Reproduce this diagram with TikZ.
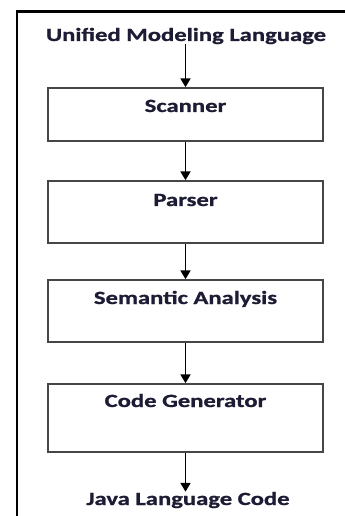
\documentclass[tikz,border=0pt]{standalone}
\usepackage{fontspec}
\setmainfont{Carlito}
\newfontfamily\heavyfont{Carlito}[UprightFont=*-Bold,FakeBold=0.8]
\usetikzlibrary{arrows.meta}
\definecolor{txt}{RGB}{28,28,52}
\definecolor{boxline}{RGB}{70,70,70}
\newcommand{\lbl}[1]{\scalebox{1.32}[1]{\fontsize{14}{16}\heavyfont #1}}
\begin{document}
\begin{tikzpicture}[x=0.75pt,y=-0.75pt,
  stagebox/.style={draw=boxline,line width=1.3pt,minimum width=206.25pt,inner sep=0pt,fill=white},
  lbltext/.style={text=txt,inner sep=0pt,anchor=base},
  flow/.style={draw=black,line width=1.1pt,-{Triangle[length=6.5pt,width=7.5pt]}},
  frame/.style={draw=black,line width=1.6pt}]
\useasboundingbox (0,0) rectangle (345,516);
\fill[white] (0,0) rectangle (345,516);
% frame (top and left edges)
\coordinate (ftr) at (345,11.5);
\coordinate (ftl) at (17,11.5);
\coordinate (fbl) at (17,516);
\draw[frame] (ftr) -- (ftl) -- (fbl);
% boxes
\node[stagebox,minimum height=39.75pt] (scanner) at (185.5,114.5) {};
\node[stagebox,minimum height=46.5pt] (parser) at (185.5,212) {};
\node[stagebox,minimum height=46.5pt] (semantic) at (185.5,311) {};
\node[stagebox,minimum height=51pt] (codegen) at (185.5,418) {};
% texts
\node[lbltext] (uml) at (186,41) {\lbl{Unified Modeling Language}};
\node[lbltext] (tscanner) at (185.5,112) {\lbl{Scanner}};
\node[lbltext] (tparser) at (185.5,206) {\lbl{Parser}};
\node[lbltext] (tsemantic) at (185.5,304) {\lbl{Semantic Analysis}};
\node[lbltext] (tcodegen) at (185.5,407) {\lbl{Code Generator}};
\node[lbltext] (java) at (188,505) {\lbl{Java Language Code}};
% connectors
\draw[flow] (scanner.north |- uml.south) -- (scanner.north);
\draw[flow] (scanner.south) -- (parser.north);
\draw[flow] (parser.south) -- (semantic.north);
\draw[flow] (semantic.south) -- (codegen.north);
\draw[flow] (codegen.south) -- (codegen.south |- java.north);
\end{tikzpicture}
\end{document}
